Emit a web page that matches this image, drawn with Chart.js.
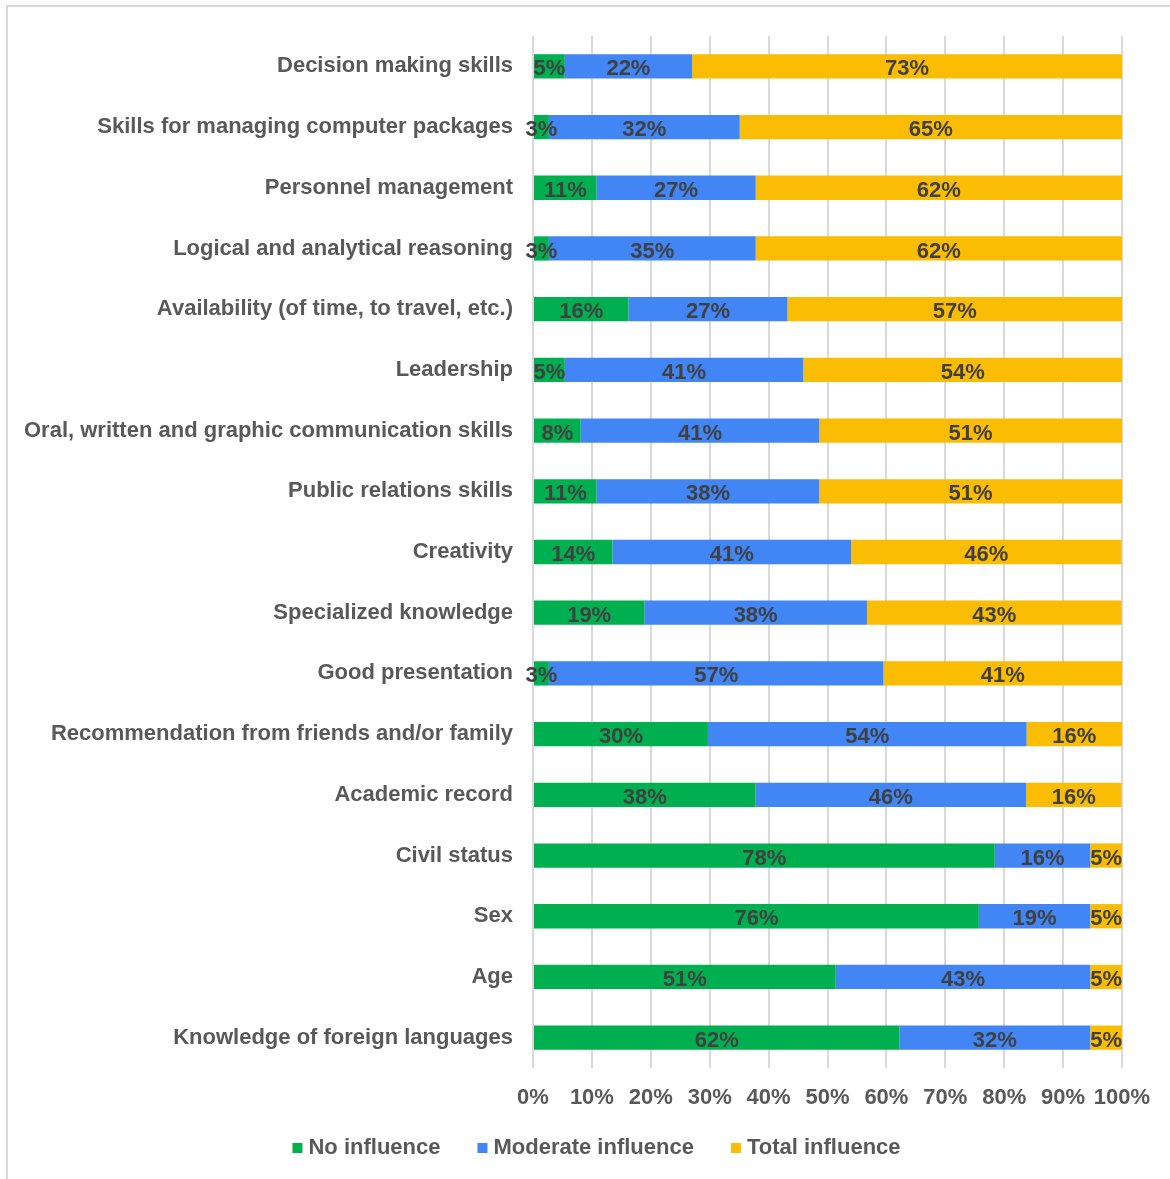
<!DOCTYPE html>
<html>
<head>
<meta charset="utf-8">
<script src="https://cdn.jsdelivr.net/npm/chart.js@4/dist/chart.umd.min.js"></script>
<style>
  html, body { margin: 0; padding: 0; background: #ffffff; }
  #wrap { position: relative; width: 1170px; height: 1179px; }
</style>
</head>
<body>
<div id="wrap"><canvas id="c" width="1170" height="1179"></canvas></div>
<script>
const categories = [
  "Decision making skills",
  "Skills for managing computer packages",
  "Personnel management",
  "Logical and analytical reasoning",
  "Availability (of time, to travel, etc.)",
  "Leadership",
  "Oral, written and graphic communication skills",
  "Public relations skills",
  "Creativity",
  "Specialized knowledge",
  "Good presentation",
  "Recommendation from friends and/or family",
  "Academic record",
  "Civil status",
  "Sex",
  "Age",
  "Knowledge of foreign languages"
];
const seriesNames = ["No influence", "Moderate influence", "Total influence"];
const noInfluence       = [5.4, 2.7, 10.8, 2.7, 16.2, 5.4, 8.1, 10.8, 13.5, 18.9, 2.7, 29.7, 37.8, 78.4, 75.7, 51.4, 62.2];
const moderateInfluence = [21.6, 32.4, 27.0, 35.1, 27.0, 40.5, 40.5, 37.8, 40.5, 37.8, 56.8, 54.1, 45.9, 16.2, 18.9, 43.2, 32.4];
const totalInfluence    = [73.0, 64.9, 62.2, 62.2, 56.8, 54.1, 51.4, 51.4, 45.9, 43.2, 40.5, 16.2, 16.2, 5.4, 5.4, 5.4, 5.4];
const xTicks = [0, 10, 20, 30, 40, 50, 60, 70, 80, 90, 100];

const colors = ["#00B050", "#4285F4", "#FBBC04"];
const FONT = "'Liberation Sans', Arial, sans-serif";

const frame = {
  id: 'frame',
  beforeDraw(chart) {
    const ctx = chart.ctx;
    ctx.save();
    ctx.fillStyle = '#ffffff';
    ctx.fillRect(0, 0, chart.width, chart.height);
    ctx.strokeStyle = '#D9D9D9';
    ctx.lineWidth = 2;
    ctx.beginPath();
    ctx.moveTo(7, chart.height);
    ctx.lineTo(7, 6);
    ctx.lineTo(chart.width, 6);
    ctx.stroke();
    ctx.restore();
  }
};

const valueLabels = {
  id: 'valueLabels',
  afterDatasetsDraw(chart) {
    const ctx = chart.ctx;
    ctx.save();
    ctx.font = "bold 22px " + FONT;
    ctx.fillStyle = '#404040';
    ctx.textAlign = 'center';
    ctx.textBaseline = 'middle';
    chart.data.datasets.forEach((ds, di) => {
      const meta = chart.getDatasetMeta(di);
      meta.data.forEach((el, i) => {
        const v = ds.data[i];
        if (!v) return;
        const p = el.getProps(['x', 'y', 'base'], true);
        ctx.fillText(Math.round(v) + '%', (p.x + p.base) / 2, p.y + 3);
      });
    });
    ctx.restore();
  }
};

const bottomLegend = {
  id: 'bottomLegend',
  afterDraw(chart) {
    const ctx = chart.ctx;
    ctx.save();
    ctx.font = "bold 22px " + FONT;
    ctx.textBaseline = 'middle';
    ctx.textAlign = 'left';
    const box = 10, gap = 6, spacing = 37, cy = 1148, cx = 596.5;
    const items = chart.data.datasets.map(ds => ({ text: ds.label, color: ds.backgroundColor, w: ctx.measureText(ds.label).width }));
    let total = 0;
    items.forEach((it, i) => { total += box + gap + it.w + (i ? spacing : 0); });
    let x = cx - total / 2;
    items.forEach(it => {
      ctx.fillStyle = it.color;
      ctx.fillRect(x, cy - 5, box, box);
      ctx.fillStyle = '#595959';
      ctx.fillText(it.text, x + box + gap, cy);
      x += box + gap + it.w + spacing;
    });
    ctx.restore();
  }
};

new Chart(document.getElementById('c'), {
  type: 'bar',
  data: {
    labels: categories,
    datasets: [
      { label: seriesNames[0], data: noInfluence, backgroundColor: colors[0] },
      { label: seriesNames[1], data: moderateInfluence, backgroundColor: colors[1] },
      { label: seriesNames[2], data: totalInfluence, backgroundColor: colors[2] }
    ]
  },
  options: {
    indexAxis: 'y',
    responsive: false,
    animation: false,
    devicePixelRatio: 1,
    layout: { padding: { left: 0, right: 48, top: 36, bottom: 51 } },
    datasets: { bar: { barPercentage: 0.4, categoryPercentage: 1.0, borderWidth: 0 } },
    scales: {
      x: {
        type: 'linear',
        stacked: true,
        min: 0,
        max: 100,
        afterBuildTicks(scale) { scale.ticks = xTicks.map(v => ({ value: v })); },
        afterFit(scale) { scale.height = 60; },
        grid: { color: '#D9D9D9', lineWidth: 2, drawTicks: false },
        border: { display: false },
        ticks: {
          padding: 17,
          maxRotation: 0,
          minRotation: 0,
          autoSkip: false,
          color: '#595959',
          font: { family: FONT, size: 22, weight: 'bold' },
          callback: v => v + '%'
        }
      },
      y: {
        stacked: true,
        afterFit(scale) { scale.width = 533; },
        grid: { display: false, drawTicks: false },
        border: { display: false },
        ticks: {
          padding: 20,
          autoSkip: false,
          color: '#595959',
          font: { family: FONT, size: 22, weight: 'bold' }
        }
      }
    },
    plugins: {
      legend: { display: false },
      tooltip: { enabled: false }
    }
  },
  plugins: [frame, valueLabels, bottomLegend]
});
</script>
</body>
</html>
